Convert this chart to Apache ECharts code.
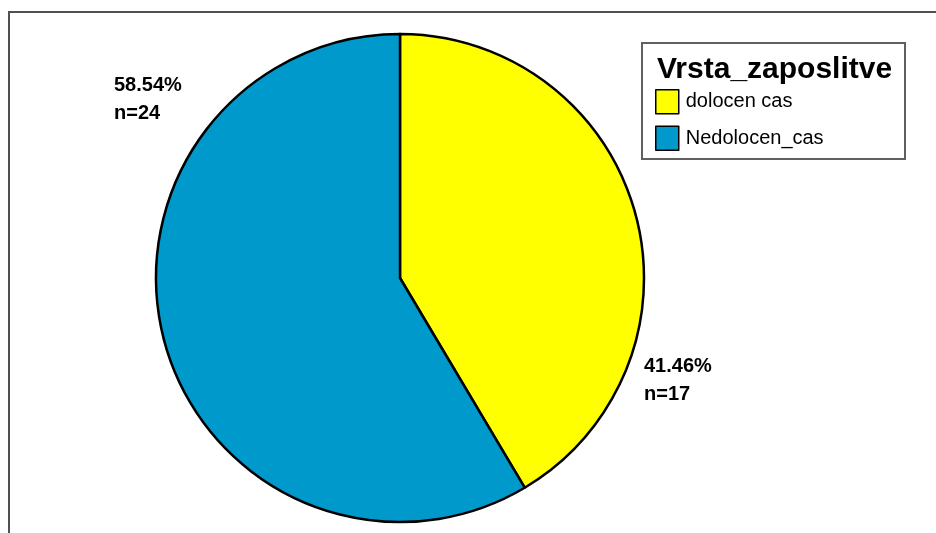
<!DOCTYPE html>
<html>
<head>
<meta charset="utf-8">
<script src="https://cdn.jsdelivr.net/npm/echarts@6/dist/echarts.min.js"></script>
<style>
  html, body { margin: 0; padding: 0; background: #fff; }
  #chart { width: 936px; height: 533px; }
</style>
</head>
<body>
<div id="chart"></div>
<script>
// Employment type (Vrsta_zaposlitve): counts per category
const categories = ['dolocen cas', 'Nedolocen_cas'];
const counts = [17, 24];
const sliceColors = ['#ffff00', '#0099cc'];
const legendTitle = 'Vrsta_zaposlitve';

const FONT = '"Liberation Sans", Arial, sans-serif';

// where each slice's percentage / count label sits
const labelSpots = [
  { x: 644, y: 352 },
  { x: 114, y: 71 }
];

const chart = echarts.init(document.getElementById('chart'), null, { renderer: 'canvas' });

chart.setOption({
  backgroundColor: '#ffffff',
  animation: false,
  title: {
    text: legendTitle,
    left: 657,
    top: 55,
    textStyle: { fontFamily: FONT, fontWeight: 'bold', fontSize: 30, color: '#000' },
    padding: 0
  },
  legend: {
    orient: 'vertical',
    left: 655,
    top: 89,
    itemWidth: 23,
    itemHeight: 24,
    itemGap: 11,
    padding: 0,
    icon: 'rect',
    selectedMode: false,
    textStyle: { fontFamily: FONT, fontSize: 20, color: '#000', padding: [0, 0, 0, 2] },
    itemStyle: { borderColor: '#000', borderWidth: 1.5 },
    data: categories
  },
  graphic: [
    {
      // outer frame (open at right and bottom)
      type: 'polyline',
      silent: true,
      shape: { points: [[9, 540], [9, 12], [940, 12]] },
      style: { stroke: '#505050', lineWidth: 2, fill: null }
    },
    {
      // legend box
      type: 'rect',
      silent: true,
      shape: { x: 642, y: 43, width: 263, height: 116 },
      style: { stroke: '#606060', lineWidth: 2, fill: null }
    }
  ],
  series: [
    {
      type: 'pie',
      center: [400, 278],
      radius: [0, 244],
      startAngle: 90,
      clockwise: true,
      avoidLabelOverlap: false,
      percentPrecision: 2,
      itemStyle: { borderColor: '#000', borderWidth: 2.5, borderJoin: 'round' },
      emphasis: { disabled: true },
      label: {
        show: true,
        position: 'outside',
        formatter: '{d}%\nn={c}',
        fontFamily: FONT,
        fontWeight: 'bold',
        fontSize: 20,
        lineHeight: 28,
        color: '#000'
      },
      labelLine: { show: false },
      labelLayout: function (params) {
        const p = labelSpots[params.dataIndex];
        return { x: p.x, y: p.y, align: 'left', verticalAlign: 'top' };
      },
      data: categories.map((name, i) => ({
        name: name,
        value: counts[i],
        itemStyle: { color: sliceColors[i] }
      }))
    }
  ]
});
</script>
</body>
</html>
